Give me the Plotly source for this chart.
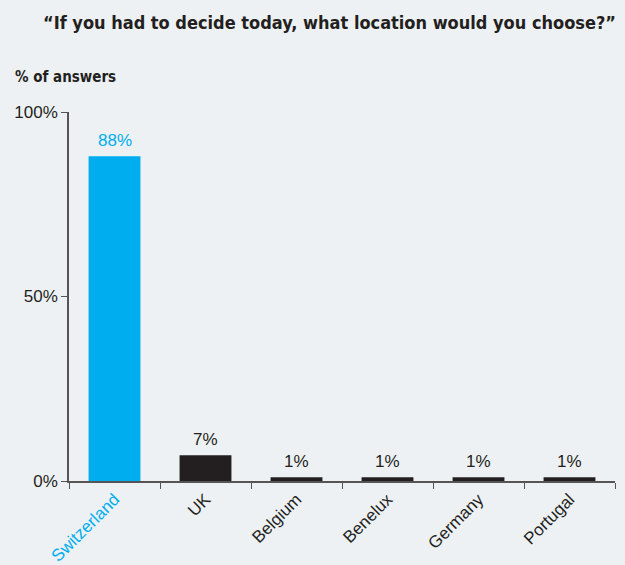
import plotly.graph_objects as go

categories = ["Switzerland", "UK", "Belgium", "Benelux", "Germany", "Portugal"]
values = [88, 7, 1, 1, 1, 1]
value_labels = ["88%", "7%", "1%", "1%", "1%", "1%"]
y_tickvals = [0, 50, 100]
y_ticktext = ["0%", "50%", "100%"]

BLUE = "#00aeef"
DARK = "#231f20"
BG = "#edf1f4"
BODY = "Liberation Sans, Arial, sans-serif"
COND = "DejaVu Sans Condensed, Liberation Sans Narrow, sans-serif"

bar_colors = [BLUE if c == "Switzerland" else DARK for c in categories]
tick_text = [f'<span style="color:{BLUE}">{c}</span>' if c == "Switzerland" else c for c in categories]

fig = go.Figure(go.Bar(
    x=categories, y=values, width=0.57,
    marker=dict(color=bar_colors, line=dict(width=0)),
    hoverinfo="skip",
))

annotations = [
    dict(x=c, y=v, text=t, xref="x", yref="y", showarrow=False, yanchor="bottom",
         yshift=4, font=dict(family=BODY, size=17, color=col))
    for c, v, t, col in zip(categories, values, value_labels, bar_colors)
]
annotations += [
    dict(text="<b>“If you had to decide today, what location would you choose?”</b>",
         xref="paper", yref="paper", x=1.0, y=1.0, xanchor="right", yanchor="middle",
         yshift=90, xshift=3, showarrow=False,
         font=dict(family=COND, size=18, color=DARK)),
    dict(text="<b>% of answers</b>", xref="paper", yref="paper", x=0, y=1.0,
         xanchor="left", yanchor="middle", xshift=-56, yshift=35, showarrow=False,
         font=dict(family=COND, size=15, color=DARK)),
]

fig.update_layout(
    width=625, height=565, autosize=False,
    paper_bgcolor=BG, plot_bgcolor=BG,
    margin=dict(l=69, r=10, t=112, b=84, autoexpand=False),
    showlegend=False,
    font=dict(family=BODY, size=17, color=DARK),
    xaxis=dict(
        range=[-0.5, 5.5], tickmode="array", tickvals=categories, ticktext=tick_text,
        tickangle=-45, tickson="boundaries", ticks="outside", ticklen=6, tickcolor="#555",
        showline=True, linecolor="#555", linewidth=1.5, showgrid=False, zeroline=False,
        tickfont=dict(size=17, color=DARK), automargin=False,
    ),
    yaxis=dict(
        range=[0, 100], tickvals=y_tickvals, ticktext=y_ticktext,
        ticks="outside", ticklen=6, tickcolor="#555", showline=True, linecolor="#555",
        linewidth=1.5, showgrid=False, zeroline=False, tickfont=dict(size=17, color=DARK),
        automargin=False,
    ),
    annotations=annotations,
)

fig.write_html("out.html", config={"displayModeBar": False},
               post_script="document.body.style.margin='0';")
